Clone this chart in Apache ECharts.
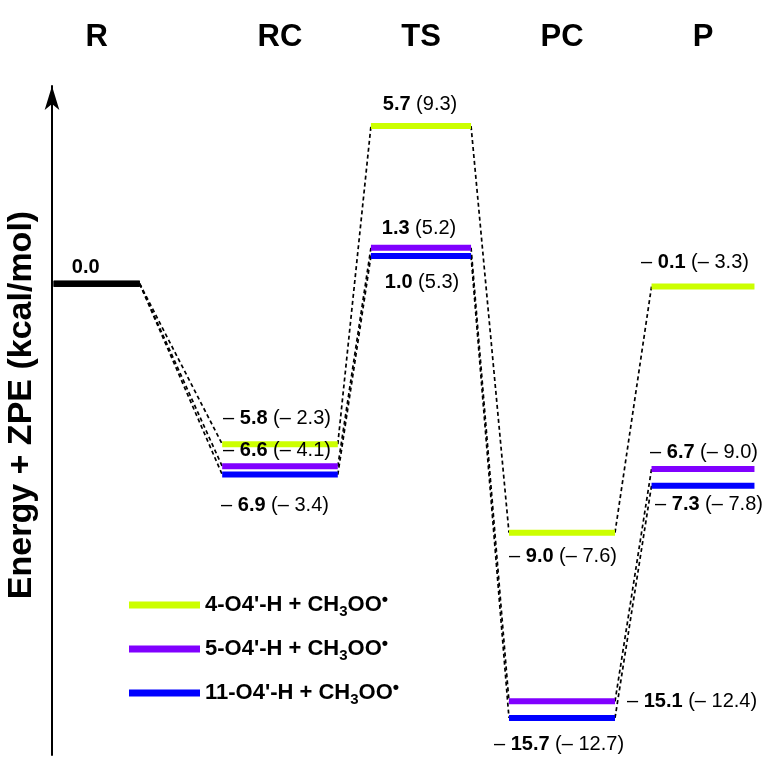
<!DOCTYPE html>
<html><head><meta charset="utf-8">
<script src="https://cdn.jsdelivr.net/npm/echarts@6/dist/echarts.min.js"></script>
<style>html,body{margin:0;padding:0;background:#fff}#c{width:767px;height:758px}</style>
</head><body><div id="c"></div>
<script>
// ---- data ----
const stages = ['R', 'RC', 'TS', 'PC', 'P'];
const seriesNames = ["4-O4'-H + CH3OO", "5-O4'-H + CH3OO", "11-O4'-H + CH3OO"];
const energy4  = [0.0, -5.8, 5.7, -9.0, -0.1];
const energy5  = [0.0, -6.6, 1.3, -15.1, -6.7];
const energy11 = [0.0, -6.9, 1.0, -15.7, -7.3];
const paren4   = [null, -2.3, 9.3, -7.6, -3.3];
const paren5   = [null, -4.1, 5.2, -12.4, -9.0];
const paren11  = [null, -3.4, 5.3, -12.7, -7.8];
const yTitle = 'Energy + ZPE (kcal/mol)';

// ---- layout / style ----
const energies = [energy4, energy5, energy11];
const parens = [paren4, paren5, paren11];
const colors = ['#ccff00', '#8000ff', '#0000ff'];
const stageX = [-0.3, 1, 2, 3, 4];
const halfW = [0.305, 0.41, 0.355, 0.376, 0.365];
const barH = 6;
// label offsets [dx, dy, align] in px relative to bar center (or bar right end when align = 'left')
const labelPos = [
  [[-11, -16, 'center'], [-3, -26, 'center'], [-1, -22, 'center'], [1, 24, 'center'], [-8, -24, 'center']],
  [null, [-3, -16, 'center'], [-2, -19, 'center'], [12, 0, 'left'], [1, -17, 'center']],
  [null, [-5, 31, 'center'], [1, 26, 'center'], [-3, 27, 'center'], [6, 19, 'center']]
];
const FONT = '"Liberation Sans", Arial, sans-serif';

function fmtNum(v) { return v < 0 ? '{r|– }{b|' + Math.abs(v).toFixed(1) + '}' : '{b|' + v.toFixed(1) + '}'; }
function fmtPar(v) { return v < 0 ? '– ' + Math.abs(v).toFixed(1) : v.toFixed(1); }

const labelRich = {
  b: { fontFamily: FONT, fontWeight: 'bold', fontSize: 20, fill: '#000' },
  r: { fontFamily: FONT, fontSize: 20, fill: '#000' }
};

function makeSeries(k) {
  return {
    type: 'custom',
    name: seriesNames[k],
    itemStyle: { color: colors[k] },
    clip: false,
    data: energies[k].map((e, i) => [i, e]),
    renderItem: function (params, api) {
      const i = api.value(0);
      const e = api.value(1);
      const p0 = api.coord([stageX[i] - halfW[i], e]);
      const p1 = api.coord([stageX[i] + halfW[i], e]);
      const children = [];
      if (i > 0) {
        const pe = energies[k][i - 1];
        const q = api.coord([stageX[i - 1] + halfW[i - 1], pe]);
        children.push({
          type: 'line', z2: 1,
          shape: { x1: q[0], y1: q[1], x2: p0[0], y2: p0[1] },
          style: { stroke: '#000', lineWidth: 1.7, lineDash: [4, 3] }
        });
      }
      children.push({
        type: 'rect', z2: 2,
        shape: { x: p0[0], y: p0[1] - barH / 2, width: p1[0] - p0[0], height: barH },
        style: { fill: i === 0 ? '#000' : colors[k] }
      });
      const lp = labelPos[k][i];
      if (lp) {
        const txt = i === 0 ? fmtNum(e) : fmtNum(e) + '{r| (' + fmtPar(parens[k][i]) + ')}';
        const cx = lp[2] === 'left' ? p1[0] + lp[0] : (p0[0] + p1[0]) / 2 + lp[0];
        children.push({
          type: 'text', z2: 3,
          style: { text: txt, x: cx, y: p0[1] + lp[1], align: lp[2], verticalAlign: 'middle', rich: labelRich }
        });
      }
      if (k === 0) {
        children.push({
          type: 'text', z2: 3,
          style: {
            text: stages[i], x: (p0[0] + p1[0]) / 2, y: params.coordSys.y - 49,
            align: 'center', verticalAlign: 'middle',
            font: 'bold 31px ' + FONT, fill: '#000'
          }
        });
      }
      return { type: 'group', children: children };
    }
  };
}

const legendRich = {
  b: { fontFamily: FONT, fontWeight: 'bold', fontSize: 22, lineHeight: 28, color: '#000' },
  sub: { fontFamily: FONT, fontWeight: 'bold', fontSize: 15, lineHeight: 14, verticalAlign: 'bottom', color: '#000' },
  sup: { fontFamily: FONT, fontWeight: 'bold', fontSize: 18, lineHeight: 10, verticalAlign: 'top', color: '#000' }
};

const chart = echarts.init(document.getElementById('c'), null, { renderer: 'canvas' });
chart.setOption({
  animation: false,
  backgroundColor: '#fff',
  grid: { left: 52, right: 10, top: 86, bottom: 3 },
  xAxis: { type: 'value', min: -0.617, max: 4.383, show: false },
  yAxis: {
    type: 'value', min: -17.04, max: 7.15,
    axisLine: { show: true, onZero: false, lineStyle: { color: '#000', width: 2 }, symbol: ['none', 'arrow'], symbolSize: [11, 24] },
    axisTick: { show: false }, axisLabel: { show: false }, splitLine: { show: false }
  },
  legend: {
    orient: 'vertical', left: 124, top: 586,
    itemWidth: 71, itemHeight: 7, itemGap: 16, itemTextGap: 13,
    icon: 'rect', selectedMode: false,
    data: seriesNames,
    formatter: function (name) {
      const base = name.replace('CH3OO', '');
      return '{b|' + base + 'CH}{sub|3}{b|OO}{sup|•}';
    },
    textStyle: { rich: legendRich }
  },
  graphic: [{
    type: 'text', x: 22, y: 405, rotation: Math.PI / 2,
    style: { text: yTitle, font: 'bold 34px ' + FONT, fill: '#000', align: 'center', verticalAlign: 'middle' }
  }],
  series: [makeSeries(0), makeSeries(1), makeSeries(2)]
});
</script></body></html>
